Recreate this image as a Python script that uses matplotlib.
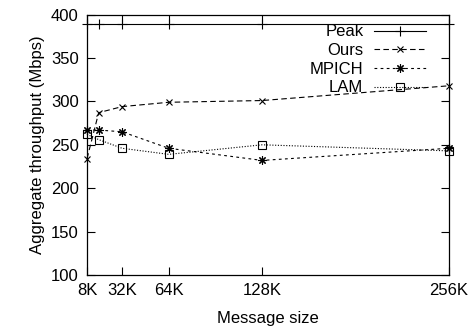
import matplotlib
matplotlib.use("Agg")
import matplotlib.pyplot as plt

# Message sizes in KB
sizes = [8, 16, 32, 64, 128, 256]
peak = [389, 389, 389, 389, 389, 389]
ours = [234, 287, 294, 299, 301, 318]
mpich = [267, 267, 265, 246, 232, 246]
lam = [262, 256, 246, 239, 250, 243]

xtick_pos = [8, 32, 64, 128, 256]
xtick_labels = ["8K", "32K", "64K", "128K", "256K"]
ytick_pos = [100, 150, 200, 250, 300, 350, 400]

plt.rcParams['font.family'] = ['Liberation Sans', 'DejaVu Sans']
plt.rcParams['font.size'] = 12

fig = plt.figure(figsize=(4.74, 3.32), dpi=100)
ax = fig.add_axes([87 / 474, 1 - 275 / 332, 362 / 474, 260.4 / 332])

lw = 0.8
common = dict(color='black', linewidth=lw, markeredgewidth=0.8, clip_on=False)

ax.plot(sizes, peak, label="Peak", linestyle='-', marker='+', markersize=7, **common)
ax.plot(sizes, ours, label="Ours", linestyle=(0, (5, 3)), marker='x', markersize=4.5, **common)
ax.plot(sizes, mpich, label="MPICH", linestyle=(0, (2.5, 3)), marker=(8, 2, 0), markersize=6, **common)
ax.plot(sizes, lam, label="LAM", linestyle=(0, (1, 1.5)), marker='s', markersize=5.5,
        markerfacecolor='none', **common)

ax.set_xlim(8, 256)
ax.set_ylim(100, 400)
ax.set_xticks(xtick_pos)
ax.set_xticklabels(xtick_labels)
ax.set_yticks(ytick_pos)

ax.tick_params(direction='in', length=6, width=0.8, top=True, right=True)
ax.tick_params(axis='x', pad=6)
ax.tick_params(axis='y', pad=6)
for s in ax.spines.values():
    s.set_linewidth(0.9)

ax.set_xlabel("Message size", labelpad=9)
ax.set_ylabel("Aggregate throughput (Mbps)", labelpad=4)

ax.legend(loc='upper right', bbox_to_anchor=(0.936, 0.962), frameon=False,
          markerfirst=False, handlelength=3.1, handletextpad=0.65,
          labelspacing=0.22, borderaxespad=0, borderpad=0)

fig.savefig("out.png", dpi=100)
